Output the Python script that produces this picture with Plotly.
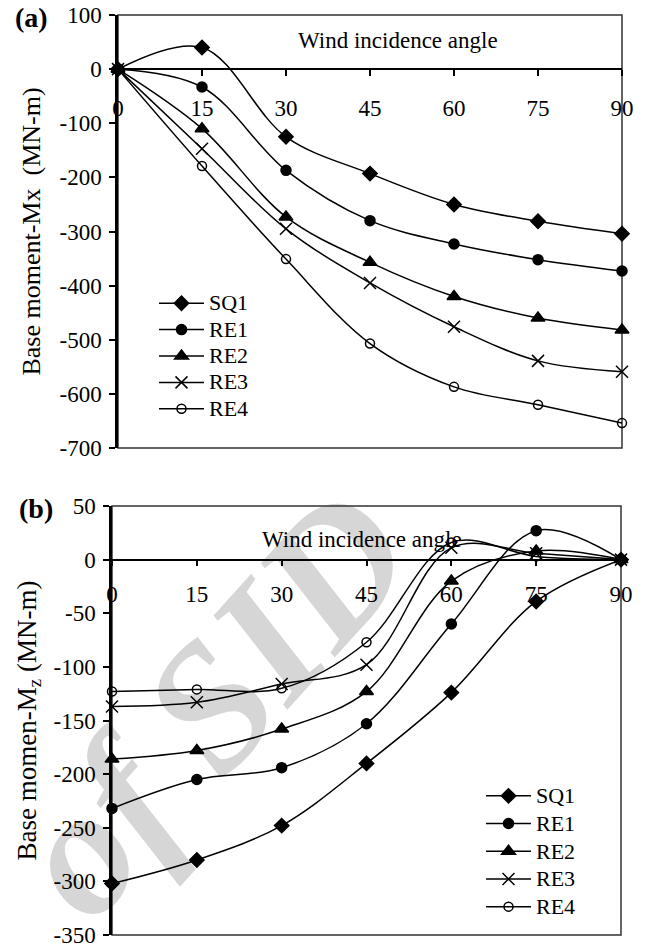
import plotly.graph_objects as go

angles = [0, 15, 30, 45, 60, 75, 90]
names = ["SQ1", "RE1", "RE2", "RE3", "RE4"]

# (a) Base moment Mx (MN-m)
mx_sq1 = [0, 40, -125, -193, -250, -281, -304]
mx_re1 = [0, -33, -187, -280, -323, -352, -373]
mx_re2 = [0, -110, -273, -357, -420, -460, -482]
mx_re3 = [0, -147, -295, -395, -476, -539, -559]
mx_re4 = [0, -179, -351, -507, -587, -620, -654]

# (b) Base moment Mz (MN-m)
mz_sq1 = [-302, -280, -248, -190, -124, -39, 0]
mz_re1 = [-232, -205, -194, -153, -60, 27, 0]
mz_re2 = [-186, -178, -158, -123, -20, 8, 0]
mz_re3 = [-137, -133, -116, -98, 11, 6, 0]
mz_re4 = [-123, -121, -120, -77, 16, 3, 0]

mx_ticks = [100, 0, -100, -200, -300, -400, -500, -600, -700]
mz_ticks = [50, 0, -50, -100, -150, -200, -250, -300, -350]

mx_data = [mx_sq1, mx_re1, mx_re2, mx_re3, mx_re4]
mz_data = [mz_sq1, mz_re1, mz_re2, mz_re3, mz_re4]

symbols = ["diamond", "circle", "triangle-up", "x-thin-open", "circle-open"]
sizes = [11, 10, 12, 12, 9]

FONT = "Liberation Serif, Times New Roman, DejaVu Serif, serif"
W, H = 646, 948
FS = 23

fig = go.Figure()

# watermark (drawn beneath the data)
fig.add_shape(type="rect", xref="paper", yref="paper",
              x0=192 / W, x1=202 / W, y0=1 - 695 / H, y1=1 - 685 / H,
              line=dict(width=0), layer="below",
              label=dict(text="of SID", textangle=-48, textposition="middle center",
                         font=dict(family=FONT, size=180, color="#d6d6d6",
                                   weight="bold", style="italic")))

def legname(n):
    return '<span style="font-size:%dpx;font-family:Liberation Serif">%s</span>' % (FS - 1, n)

for i, nm in enumerate(names):
    fig.add_trace(go.Scatter(
        x=angles, y=mx_data[i], name=legname(nm), mode="lines+markers",
        line=dict(color="black", width=1.5, shape="spline", smoothing=1.0),
        marker=dict(symbol=symbols[i], size=sizes[i], color="black",
                    line=dict(color="black", width=1.5)),
        xaxis="x", yaxis="y", legend="legend", cliponaxis=False))
for i, nm in enumerate(names):
    fig.add_trace(go.Scatter(
        x=angles, y=mz_data[i], name=legname(nm), mode="lines+markers",
        line=dict(color="black", width=1.5, shape="spline", smoothing=1.0),
        marker=dict(symbol=symbols[i], size=sizes[i], color="black",
                    line=dict(color="black", width=1.5)),
        xaxis="x2", yaxis="y2", legend="legend2", cliponaxis=False))

# domains in paper coordinates (margins = 0)
a_x = [118 / W, 622 / W]
a_y = [1 - 448 / H, 1 - 15 / H]
b_x = [112 / W, 621 / W]
b_y = [1 - 935 / H, 1 - 506 / H]

a_rng = [-700, 100]
b_rng = [-350, 50]
a_zero = a_y[0] + (0 - a_rng[0]) / (a_rng[1] - a_rng[0]) * (a_y[1] - a_y[0])
b_zero = b_y[0] + (0 - b_rng[0]) / (b_rng[1] - b_rng[0]) * (b_y[1] - b_y[0])

tickfont = dict(family=FONT, size=FS, color="black")

xcommon = dict(range=[0, 90], tickmode="array", tickvals=angles,
               ticktext=[str(a) for a in angles], showgrid=False, zeroline=False,
               showline=True, linecolor="black", linewidth=1.5,
               ticks="outside", ticklen=6, tickwidth=1.5, tickcolor="black",
               tickfont=tickfont, anchor="free", automargin=False,
               ticklabeloverflow="allow")
ycommon = dict(showgrid=False, zeroline=False, showline=True, linecolor="black",
               linewidth=2.5, ticks="outside", ticklen=6, tickwidth=1.5,
               tickcolor="black", tickfont=tickfont, tickmode="array",
               ticklabelstandoff=3, automargin=False, ticklabeloverflow="allow")

fig.update_layout(
    width=W, height=H, margin=dict(l=0, r=0, t=0, b=0, autoexpand=False),
    paper_bgcolor="white", plot_bgcolor="rgba(0,0,0,0)",
    font=dict(family=FONT, color="black"),
    xaxis=dict(domain=a_x, position=a_zero, ticklabelstandoff=13, **xcommon),
    yaxis=dict(domain=a_y, range=a_rng, anchor="x",
               tickvals=mx_ticks, ticktext=[str(t) for t in mx_ticks],
               title=dict(text="Base moment-Mx  (MN-m)", font=dict(family=FONT, size=26), standoff=12),
               **ycommon),
    xaxis2=dict(domain=b_x, position=b_zero, ticklabelstandoff=8, **xcommon),
    yaxis2=dict(domain=b_y, range=b_rng, anchor="x2",
                tickvals=mz_ticks, ticktext=[str(t) for t in mz_ticks],
                title=dict(text="Base momen-M<sub>z</sub> (MN-m)", font=dict(family=FONT, size=27), standoff=10),
                **ycommon),
    legend=dict(x=154 / W, y=1 - 285 / H, xanchor="left", yanchor="top",
                bgcolor="rgba(0,0,0,0)", font=dict(family=FONT, size=18),
                itemwidth=45, tracegroupgap=0),
    legend2=dict(x=481 / W, y=1 - 777 / H, xanchor="left", yanchor="top",
                 bgcolor="rgba(0,0,0,0)", font=dict(family=FONT, size=19),
                 itemwidth=45, tracegroupgap=0),
    showlegend=True,
)

# plot frames
for xr, yr in (("x domain", "y domain"), ("x2 domain", "y2 domain")):
    fig.add_shape(type="rect", xref=xr, yref=yr, x0=0, x1=1, y0=0, y1=1,
                  line=dict(color="#333333", width=1.5), layer="below")

# labels
ann = dict(xref="paper", yref="paper", showarrow=False, xanchor="center", yanchor="middle")
fig.add_annotation(x=398 / W, y=1 - 40 / H, text="Wind incidence angle",
                   font=dict(family=FONT, size=FS), **ann)
fig.add_annotation(x=362 / W, y=1 - 539 / H, text="Wind incidence angle",
                   font=dict(family=FONT, size=FS), **ann)
fig.add_annotation(x=31 / W, y=1 - 18 / H, text="<b>(a)</b>",
                   font=dict(family=FONT, size=28), **ann)
fig.add_annotation(x=36 / W, y=1 - 508 / H, text="<b>(b)</b>",
                   font=dict(family=FONT, size=28), **ann)

fig.write_html("out.html")
